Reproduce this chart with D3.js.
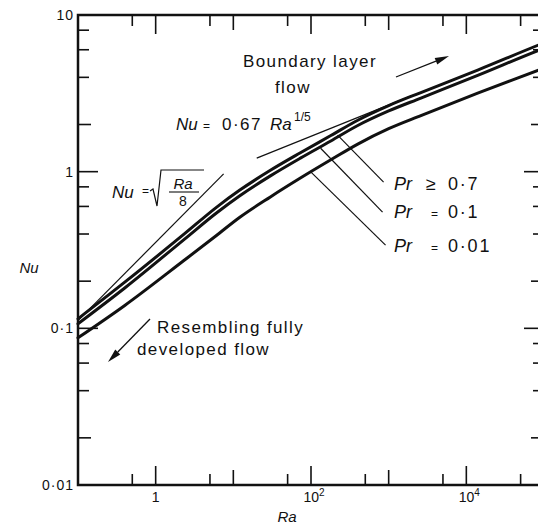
<!DOCTYPE html>
<html>
<head>
<meta charset="utf-8">
<script src="https://cdn.jsdelivr.net/npm/d3@7"></script>
<style>
  body { margin: 0; background: #fff; }
  svg { display: block; font-family: "Liberation Sans", Arial, sans-serif; }
</style>
</head>
<body>
<svg id="chart" width="538" height="527"></svg>
<script>
// Rayleigh numbers at which the Nusselt curves are sampled
const raPoints = [0.1, 0.4, 2.4, 6, 12, 30, 73, 180, 400, 1000, 2600, 14000, 85000, 100000];
// Nusselt number for each Prandtl number
const nuPr07  = [0.115, 0.197, 0.405, 0.59, 0.76, 1.02, 1.32, 1.70, 2.13, 2.64, 3.20, 4.45, 6.43, 6.64];
const nuPr01  = [0.107, 0.181, 0.374, 0.543, 0.70, 0.94, 1.22, 1.57, 1.97, 2.44, 2.95, 4.12, 5.95, 6.14];
const nuPr001 = [0.087, 0.140, 0.275, 0.39, 0.51, 0.69, 0.91, 1.19, 1.50, 1.88, 2.28, 3.17, 4.45, 4.59];

// Limiting lines: Nu = sqrt(Ra/8) and Nu = 0.67 Ra^(1/5)
const fullyDevRa = [0.1, 7.5];
const fullyDevNu = [0.112, 0.968];
const boundaryRa = [20, 2000];
const boundaryNu = [1.22, 3.06];

// Leader lines from each curve to its label, [Ra, Nu] at both ends
const leaderStart = [[220, 1.71], [133, 1.41], [100, 0.994]];
const leaderEnd   = [[860, 0.858], [834, 0.552], [912, 0.34]];

// Axis ticks
const yTickValues = [10, 1, 0.1, 0.01];
const yTickLabels = ["10", "1", "0·1", "0·01"];
const xTickValues = [1, 100, 10000];
const xTickBase   = ["1", "10", "10"];
const xTickExp    = ["", "2", "4"];

const svg = d3.select("#chart");
const x = d3.scaleLog().domain([0.1, 1e5]).range([78, 544]);
const y = d3.scaleLog().domain([0.01, 10]).range([485, 15]);
const ink = "#111";

// ---- frame ----
const frame = svg.append("g").attr("stroke", ink).attr("stroke-width", 2.5).attr("fill", "none");
frame.append("path").attr("d", `M${x(0.1)},${y(10)}H${x(1e5)}V${y(0.01)}H${x(0.1)}Z`);

// ---- y ticks (left and right, pointing inward) ----
const yTicks = [];
[0.01, 0.1, 1].forEach(d => {
  [2, 4, 6, 8].forEach(m => yTicks.push({ v: d * m, len: m === 2 ? 13 : 11 }));
});
[0.1, 1].forEach(v => yTicks.push({ v, len: 20 }));
const tg = svg.append("g").attr("stroke", ink).attr("stroke-width", 1.6);
tg.selectAll("line.yl").data(yTicks).join("line")
  .attr("x1", x(0.1)).attr("x2", d => x(0.1) + d.len)
  .attr("y1", d => y(d.v)).attr("y2", d => y(d.v));
tg.selectAll("line.yr").data(yTicks).join("line")
  .attr("x1", x(1e5)).attr("x2", d => x(1e5) - d.len)
  .attr("y1", d => y(d.v)).attr("y2", d => y(d.v));

// ---- x ticks (bottom and top) ----
const xTicks = [];
[0.1, 1, 10, 100, 1000, 10000].forEach(d => {
  xTicks.push({ v: d * 5, len: 11 });
  if (d * 10 < 1e5) xTicks.push({ v: d * 10, len: xTickValues.includes(d * 10) ? 19 : 15 });
});
tg.selectAll("line.xb").data(xTicks).join("line")
  .attr("x1", d => x(d.v)).attr("x2", d => x(d.v))
  .attr("y1", y(0.01)).attr("y2", d => y(0.01) - d.len);
tg.selectAll("line.xt").data(xTicks).join("line")
  .attr("x1", d => x(d.v)).attr("x2", d => x(d.v))
  .attr("y1", y(10)).attr("y2", d => y(10) + d.len);

// ---- tick labels ----
svg.append("g").selectAll("text").data(yTickValues).join("text")
  .attr("x", 74).attr("y", d => y(d)).attr("dy", "0.36em")
  .attr("text-anchor", "end").attr("font-size", 14).attr("letter-spacing", 1)
  .attr("fill", ink).text((d, i) => yTickLabels[i]);

const xl = svg.append("g").selectAll("text").data(xTickValues).join("text")
  .attr("x", d => x(d)).attr("y", 502)
  .attr("text-anchor", "middle").attr("font-size", 14).attr("fill", ink);
xl.append("tspan").text((d, i) => xTickBase[i]);
xl.append("tspan").attr("font-size", 10).attr("dy", -6).text((d, i) => xTickExp[i]);
xl.attr("dx", (d, i) => xTickExp[i] ? 3 : 0);

// ---- axis titles ----
svg.append("text").attr("x", 29).attr("y", 273).attr("text-anchor", "middle")
  .attr("font-size", 15).attr("font-style", "italic").attr("fill", ink).text("Nu");
svg.append("text").attr("x", 287).attr("y", 522).attr("text-anchor", "middle")
  .attr("font-size", 15).attr("font-style", "italic").attr("fill", ink).text("Ra");

// ---- curves ----
const line = d3.line().x(d => x(d[0])).y(d => y(d[1])).curve(d3.curveMonotoneX);
const series = [nuPr07, nuPr01, nuPr001];
svg.append("g").selectAll("path").data(series).join("path")
  .attr("d", s => line(raPoints.map((r, i) => [r, s[i]])))
  .attr("fill", "none").attr("stroke", ink).attr("stroke-width", 3)
  .attr("stroke-linecap", "round");

// limiting lines
const thin = svg.append("g").attr("stroke", ink).attr("stroke-width", 1.2).attr("fill", "none");
const straight = d3.line().x(d => x(d[0])).y(d => y(d[1]));
thin.append("path").attr("d", straight(fullyDevRa.map((r, i) => [r, fullyDevNu[i]])));
thin.append("path").attr("d", straight(boundaryRa.map((r, i) => [r, boundaryNu[i]])));

// leaders
thin.selectAll("line").data(leaderStart).join("line")
  .attr("x1", d => x(d[0])).attr("y1", d => y(d[1]))
  .attr("x2", (d, i) => x(leaderEnd[i][0])).attr("y2", (d, i) => y(leaderEnd[i][1]));

// ---- Prandtl labels ----
const prLabels = [
  { rel: "≥", num: "0·7", base: 190 },
  { rel: "=", num: "0·1", base: 218 },
  { rel: "=", num: "0·01", base: 252 }
];
const pl = svg.append("g").attr("fill", ink).attr("font-size", 18);
prLabels.forEach(p => {
  pl.append("text").attr("x", 394).attr("y", p.base).attr("font-style", "italic").text("Pr");
  pl.append("text").attr("x", p.rel === "≥" ? 426 : 431).attr("y", p.base)
    .attr("font-size", p.rel === "≥" ? 18 : 12).text(p.rel);
  pl.append("text").attr("x", 448).attr("y", p.base).attr("letter-spacing", 1.8).text(p.num);
});

// ---- regime annotations ----
const ann = svg.append("g").attr("fill", ink).attr("font-size", 17).attr("letter-spacing", 1.4);
ann.append("text").attr("x", 243).attr("y", 67).text("Boundary layer");
ann.append("text").attr("x", 275).attr("y", 93).text("flow");
ann.append("text").attr("x", 157).attr("y", 333).text("Resembling fully");
ann.append("text").attr("x", 137).attr("y", 355).text("developed flow");

// arrows
function arrow(x1, y1, x2, y2) {
  const g = svg.append("g");
  const a = Math.atan2(y2 - y1, x2 - x1), L = 14, W = 3.5;
  const bx = x2 - L * Math.cos(a), by = y2 - L * Math.sin(a);
  g.append("line").attr("x1", x1).attr("y1", y1).attr("x2", bx).attr("y2", by)
    .attr("stroke", ink).attr("stroke-width", 1.3);
  g.append("path").attr("fill", ink)
    .attr("d", `M${x2},${y2}L${bx - W * Math.sin(a)},${by + W * Math.cos(a)}L${bx + W * Math.sin(a)},${by - W * Math.cos(a)}Z`);
}
arrow(396, 77, 449, 56);
arrow(150, 319, 108, 362);

// ---- formula: Nu = 0·67 Ra^1/5 ----
const f1 = svg.append("g").attr("fill", ink).attr("font-size", 17);
f1.append("text").attr("x", 176).attr("y", 130).attr("font-style", "italic").text("Nu");
f1.append("text").attr("x", 203).attr("y", 130).attr("font-size", 12).text("=");
f1.append("text").attr("x", 222).attr("y", 130).attr("letter-spacing", 1.5).text("0·67");
f1.append("text").attr("x", 270).attr("y", 130).attr("font-style", "italic").text("Ra");
f1.append("text").attr("x", 294).attr("y", 121).attr("font-size", 12).text("1/5");

// ---- formula: Nu = sqrt(Ra/8) ----
const f2 = svg.append("g").attr("fill", ink);
f2.append("text").attr("x", 112).attr("y", 198).attr("font-size", 17).attr("font-style", "italic").text("Nu");
f2.append("text").attr("x", 142).attr("y", 195).attr("font-size", 12).text("=");
f2.append("path").attr("fill", "none").attr("stroke", ink).attr("stroke-width", 1.2)
  .attr("d", "M150,191L153,189L157,206L161,170H204");
f2.append("text").attr("x", 183).attr("y", 189).attr("text-anchor", "middle")
  .attr("font-size", 15).attr("font-style", "italic").text("Ra");
f2.append("line").attr("x1", 169).attr("x2", 199).attr("y1", 192).attr("y2", 192)
  .attr("stroke", ink).attr("stroke-width", 1.1);
f2.append("text").attr("x", 183).attr("y", 206).attr("text-anchor", "middle")
  .attr("font-size", 14).text("8");
</script>
</body>
</html>
